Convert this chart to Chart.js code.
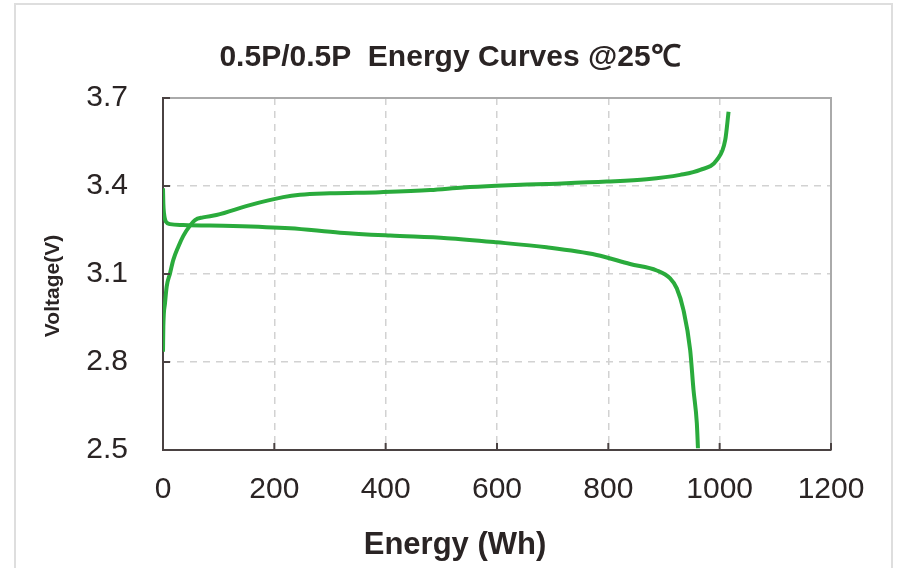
<!DOCTYPE html>
<html>
<head>
<meta charset="utf-8">
<title>0.5P/0.5P Energy Curves</title>
<script src="https://cdn.jsdelivr.net/npm/chart.js@4/dist/chart.umd.min.js"></script>
<style>
  html, body { margin: 0; padding: 0; background: #fff; overflow: hidden; }
  #wrap { position: relative; width: 900px; height: 568px; }
  #frame {
    position: absolute; left: 14px; top: 3px; width: 879px; height: 620px;
    border: 2px solid #dedede; box-sizing: border-box;
  }
  #chart { position: absolute; left: 0; top: 0; }
</style>
</head>
<body>
<div id="wrap">
  <div id="frame"></div>
  <canvas id="chart" width="900" height="568"></canvas>
</div>
<script>
// charge curve (energy in Wh, voltage in V)
let chargeEnergy = [0, 0.6, 3.6, 6.6, 12.6, 18.5, 27.5, 36.5, 48.5, 57.5, 72, 96, 156, 216, 246, 300, 390, 480, 539, 599, 689, 797, 869, 929, 965, 995, 1010, 1016];
let chargeVoltage = [2.835, 2.92, 3.0, 3.057, 3.102, 3.148, 3.193, 3.23, 3.265, 3.284, 3.293, 3.301, 3.335, 3.362, 3.370, 3.375, 3.379, 3.386, 3.395, 3.401, 3.407, 3.415, 3.423, 3.438, 3.455, 3.489, 3.557, 3.653];

// discharge curve
let dischargeEnergy = [0, 0.6, 1.8, 5.4, 12.6, 36, 126, 228, 318, 408, 510, 599, 689, 779, 839, 887, 911, 923, 935, 947, 953, 959, 961];
let dischargeVoltage = [3.392, 3.341, 3.307, 3.278, 3.270, 3.267, 3.264, 3.256, 3.241, 3.231, 3.222, 3.208, 3.191, 3.165, 3.134, 3.112, 3.085, 3.051, 2.977, 2.841, 2.705, 2.591, 2.506];

let xTicks = [0, 200, 400, 600, 800, 1000, 1200];
let yTicks = [2.5, 2.8, 3.1, 3.4, 3.7];

let green = "#2aab3c";
let axisColor = "#4a4242";
let textColor = "#2a2424";
let fontFamily = "'Liberation Sans', Arial, Helvetica, sans-serif";

function toPoints(xs, ys) {
  return xs.map((x, i) => ({ x: x, y: ys[i] }));
}

// hide the grid line that sits on the plot edge
function gridColor(ctx, lo, hi) {
  let v = ctx.tick ? ctx.tick.value : null;
  if (v === lo || v === hi) return "rgba(0,0,0,0)";
  return "#d2d2d2";
}

// box lines on top/right, inside tick marks, axis titles
let boxPlugin = {
  id: "boxPlugin",
  afterDraw(chart) {
    let c = chart.ctx;
    let a = chart.chartArea;
    let xs = chart.scales.x;
    let ys = chart.scales.y;
    c.save();
    c.strokeStyle = "#aaaaaa";
    c.lineWidth = 2;
    c.beginPath();
    c.moveTo(a.left, a.top);
    c.lineTo(a.right, a.top);
    c.lineTo(a.right, a.bottom);
    c.stroke();

    c.strokeStyle = axisColor;
    c.lineWidth = 2;
    c.beginPath();
    xTicks.forEach((t) => {
      if (t === xTicks[0]) return;
      let px = xs.getPixelForValue(t);
      c.moveTo(px, a.bottom);
      c.lineTo(px, a.bottom - 7);
    });
    yTicks.forEach((t) => {
      if (t === yTicks[0]) return;
      let py = ys.getPixelForValue(t);
      c.moveTo(a.left, py);
      c.lineTo(a.left + 7, py);
    });
    c.stroke();

    c.fillStyle = textColor;
    c.textAlign = "center";
    c.textBaseline = "alphabetic";
    c.font = "bold 31px " + fontFamily;
    c.fillText("Energy (Wh)", 455, 554);

    c.translate(53, 286);
    c.rotate(-Math.PI / 2);
    c.textBaseline = "middle";
    c.font = "bold 21px " + fontFamily;
    c.fillText("Voltage(V)", 0, 0);
    c.restore();
  },
};

let ctx = document.getElementById("chart").getContext("2d");
let chart = new Chart(ctx, {
  type: "scatter",
  data: {
    datasets: [
      {
        label: "Charge",
        data: toPoints(chargeEnergy, chargeVoltage),
        showLine: true,
        borderColor: green,
        borderWidth: 4,
        pointRadius: 0,
        cubicInterpolationMode: "monotone",
      },
      {
        label: "Discharge",
        data: toPoints(dischargeEnergy, dischargeVoltage),
        showLine: true,
        borderColor: green,
        borderWidth: 4,
        pointRadius: 0,
        cubicInterpolationMode: "monotone",
      },
    ],
  },
  options: {
    responsive: false,
    animation: false,
    layout: { padding: 0 },
    plugins: {
      legend: { display: false },
      tooltip: { enabled: false },
      title: {
        display: true,
        text: "0.5P/0.5P  Energy Curves @25℃",
        color: textColor,
        font: { family: fontFamily, size: 30, weight: "bold", lineHeight: 1.2 },
        padding: { top: 40, bottom: 22 },
      },
    },
    scales: {
      x: {
        type: "linear",
        min: xTicks[0],
        max: xTicks[xTicks.length - 1],
        afterBuildTicks: (s) => { s.ticks = xTicks.map((v) => ({ value: v })); },
        afterFit: (s) => { s.height = 118; },
        ticks: {
          color: textColor,
          padding: 22,
          maxRotation: 0,
          font: { family: fontFamily, size: 30 },
          callback: (v) => String(v),
        },
        grid: {
          drawTicks: false,
          lineWidth: 1.5,
          color: (c) => gridColor(c, xTicks[0], xTicks[xTicks.length - 1]),
        },
        border: { display: true, color: axisColor, width: 2, dash: [7, 6] },
      },
      y: {
        type: "linear",
        min: yTicks[0],
        max: yTicks[yTicks.length - 1],
        afterBuildTicks: (s) => { s.ticks = yTicks.map((v) => ({ value: v })); },
        afterFit: (s) => { s.width = 163; },
        ticks: {
          color: textColor,
          padding: 35,
          font: { family: fontFamily, size: 30 },
          callback: (v) => v.toFixed(1),
        },
        grid: {
          drawTicks: false,
          lineWidth: 1.5,
          color: (c) => gridColor(c, yTicks[0], yTicks[yTicks.length - 1]),
        },
        border: { display: true, color: axisColor, width: 2, dash: [7, 6] },
      },
      // empty right-hand strip so the title stays centred on the page
      spacer: {
        type: "linear",
        position: "right",
        min: 0,
        max: 1,
        afterFit: (s) => { s.width = 69; },
        ticks: { display: false },
        grid: { display: false, drawTicks: false },
        border: { display: false },
      },
    },
  },
  plugins: [boxPlugin],
});
</script>
</body>
</html>
